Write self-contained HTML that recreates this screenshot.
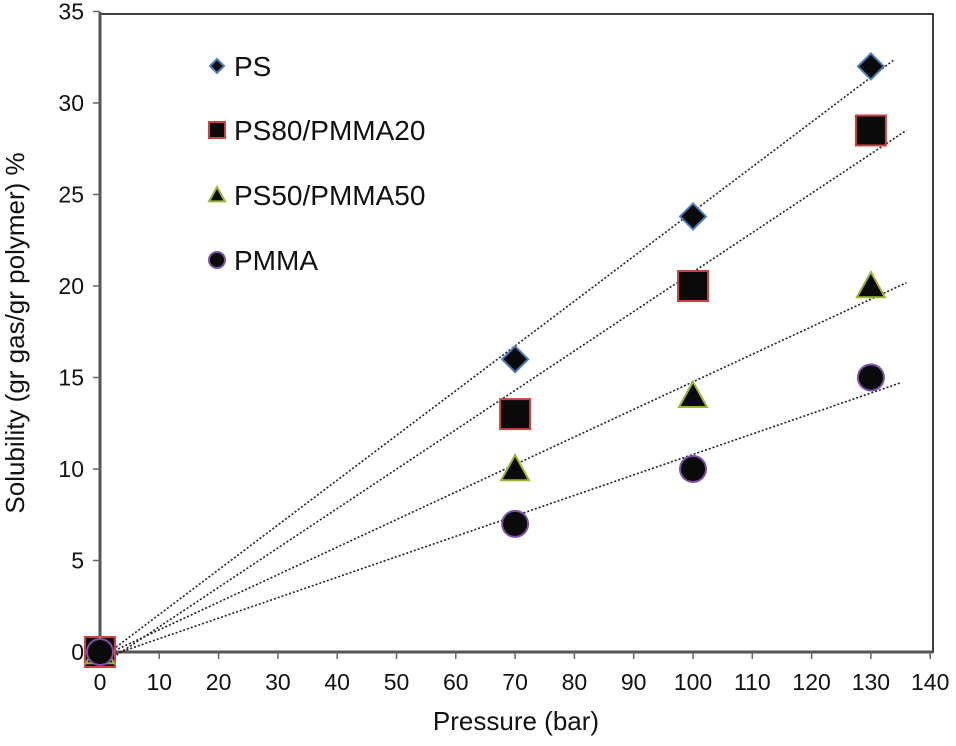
<!DOCTYPE html>
<html><head><meta charset="utf-8"><style>
body{margin:0;background:#fff;}
svg text{font-family:"Liberation Sans",Arial,sans-serif;fill:#111;}
</style></head><body>
<svg id="c" width="956" height="741" xmlns="http://www.w3.org/2000/svg"></svg>
<script>
const pressures=[0,70,100,130];
const psVals=[0,16,23.8,32];
const ps80Vals=[0,13,20,28.5];
const ps50Vals=[0,10,14,20];
const pmmaVals=[0,7,10,15];
const xTicks=[0,10,20,30,40,50,60,70,80,90,100,110,120,130,140];
const yTicks=[0,5,10,15,20,25,30,35];
const seriesNames=["PS","PS80/PMMA20","PS50/PMMA50","PMMA"];
const lineEnds=[134,136,136,135];

const svg=document.getElementById('c');
const NS='http://www.w3.org/2000/svg';
const X0=100,XS=5.93,Y0=652,YS=18.3;
const sx=v=>X0+v*XS, sy=v=>Y0-v*YS;
function el(t,a,p){const e=document.createElementNS(NS,t);for(const k in a)e.setAttribute(k,a[k]);(p||svg).appendChild(e);return e;}

const frame=el('rect',{x:100,y:14,width:833,height:638,fill:'none',stroke:'#000','stroke-width':1.5});


const ya=el('line',{x1:100,y1:12,x2:100,y2:654,stroke:'#555','stroke-width':3});


const xa=el('line',{x1:98,y1:652,x2:933,y2:652,stroke:'#555','stroke-width':3});



xTicks.forEach(v=>{
  const t=el('line',{x1:sx(v),y1:652,x2:sx(v),y2:659,stroke:'#666','stroke-width':1.5});
  
  
  const l=el('text',{x:sx(v),y:690,'font-size':23,'text-anchor':'middle'});l.textContent=v;
  
  
});
yTicks.forEach(v=>{
  const t=el('line',{x1:93,y1:sy(v),x2:100,y2:sy(v),stroke:'#666','stroke-width':1.5});
  
  
  const l=el('text',{x:84,y:sy(v)+8,'font-size':23,'text-anchor':'end'});l.textContent=v;
  
  
});
const xt=el('text',{x:516,y:730,'font-size':26,'text-anchor':'middle'});xt.textContent='Pressure (bar)';


const yt=el('text',{x:0,y:0,'font-size':26,'text-anchor':'middle',transform:'translate(24,333) rotate(-90)'});yt.textContent='Solubility (gr gas/gr polymer) %';



const all=[psVals,ps80Vals,ps50Vals,pmmaVals];
const strokes=['#4a7fc0','#d04040','#9ab832','#8050a8'];
all.forEach((ys,i)=>{
  const n=ys.length;let mx=0,my=0;for(let k=0;k<n;k++){mx+=pressures[k];my+=ys[k];}mx/=n;my/=n;
  let num=0,den=0;for(let k=0;k<n;k++){num+=(pressures[k]-mx)*(ys[k]-my);den+=(pressures[k]-mx)**2;}
  const m=num/den,b=my-m*mx;
  const ln=el('line',{x1:sx(0),y1:sy(b),x2:sx(lineEnds[i]),y2:sy(b+m*lineEnds[i]),stroke:'#222','stroke-width':1.6,'stroke-dasharray':'2,2'});
  
  
});
function marker(type,cx,cy,s,stroke){
  let e;
  if(type===0)e=el('polygon',{points:`${cx},${cy-s} ${cx+s},${cy} ${cx},${cy+s} ${cx-s},${cy}`});
  else if(type===1)e=el('rect',{x:cx-s,y:cy-s,width:2*s,height:2*s});
  else if(type===2)e=el('polygon',{points:`${cx},${cy-s} ${cx+s},${cy+s*0.8} ${cx-s},${cy+s*0.8}`});
  else e=el('circle',{cx:cx,cy:cy,r:s});
  e.setAttribute('fill','#0a0a0a');e.setAttribute('stroke',stroke);e.setAttribute('stroke-width',2);
  return e;
}
const sizes=[13,15,14,13];
all.forEach((ys,i)=>{
  ys.forEach((v,k)=>{
    const m=marker(i,sx(pressures[k]),sy(v),sizes[i],strokes[i]);
    
    
  });
});
const legY=[66,130,195,260],lsz=[7,8,8,8];
seriesNames.forEach((nm,i)=>{
  const m=marker(i,217,legY[i],lsz[i],strokes[i]);
  
  
  const t=el('text',{x:234,y:legY[i]+10,'font-size':28});t.textContent=nm;
  
  
});
</script>
</body></html>
